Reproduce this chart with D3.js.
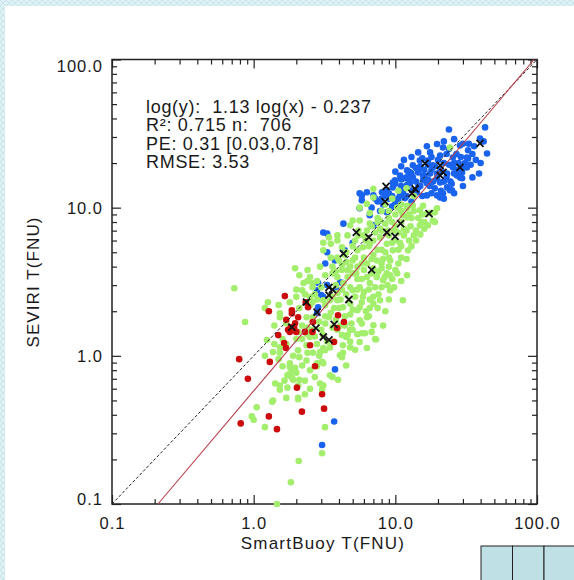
<!DOCTYPE html>
<html>
<head>
<meta charset="UTF-8">
<title>SEVIRI vs SmartBuoy</title>
<script src="https://d3js.org/d3.v7.min.js"></script>
<style>
    body { margin: 0; background: #fff; }
    svg text { font-family: "Liberation Sans", Arial, Helvetica, sans-serif; fill: #1a1a1a; }
</style>
</head>
<body>
<div id="chart"></div>
<script>
    // tick values (log axes, both 0.1 .. 100)
    const majorTicks = [0.1, 1, 10, 100]
    const minorTicks = [0.2, 0.3, 0.4, 0.5, 0.6, 0.7, 0.8, 0.9, 2, 3, 4, 5, 6, 7, 8, 9, 20, 30, 40, 50, 60, 70, 80, 90]
    const statLines = ['log(y):  1.13 log(x) - 0.237', 'R²: 0.715 n:  706', 'PE: 0.31 [0.03,0.78]', 'RMSE: 3.53']
    const fitSlope = 1.13
    const fitIntercept = -0.237

    // [SmartBuoy, SEVIRI] pairs
    const bluePts = [
        [23.9,33.7],[43,34.8],[39.6,29.3],[44.4,23.2],[39,17],[32.6,24.4],[32.6,21.5],[28.6,26.3],[19.7,26.9],[16.7,26],
        [14.5,23.6],[17.6,23.6],[21.7,25.5],[20.7,22.5],[25.5,21.8],[32,18.7],[29.6,17.3],[27.2,16.5],[23.2,17],[20.7,17.3],
        [18.4,19.3],[17,20.8],[14.9,20.8],[13.3,19.3],[12.7,17.3],[11.7,15.8],[12.1,14.2],[13.3,16],[14.5,17.3],[15.7,16.5],
        [17.6,17],[19.7,15.8],[20.7,14.8],[16.7,14.6],[14.5,13.7],[13.1,13.1],[11.3,12.7],[10.8,12.1],[11.7,11.6],[14.2,12.7],
        [16.7,12.1],[19.7,12.1],[21.7,12.5],[25.1,13.1],[20.7,11.7],[29.6,15.8],[12.3,17.6],[14.5,17.9],[9.95,15.3],[9.6,13.7],
        [8.7,13.1],[10.8,13.1],[12.7,14.6],[15.7,15.3],[19.7,17],[25.5,18.7],[30,18.7],[32,21.8],[28.6,16],[23.2,13.7],
        [24.3,13.1],[5.8,12.1],[6.3,12.7],[7.0,12.1],[8.05,12.7],[9.6,14.8],[10.8,16.5],[12.1,17.9],
        [7.5,11],[8.2,10.5],[9,11.5],[9.5,10.2],[8.5,12],[7.8,9.5],[10,11],[6.8,10],[7.2,11.5],[10.5,10.3],
        [15,19],[16,18],[18,18],[17,15.5],[19,19],[22,20],[21,18],[24,19.5],[26,20],[23,23],
        [18,22],[15.5,21.5],[27,23],[30,27],[26,29],[22,28],[13,22],[11,19],[10,17.5],[11.5,21],
        [11,14],[12.5,15.5],[14,15],[15,14],[16,16.5],[17.5,14],[18.5,15],[19,13.5],[21,13],[22,15],
        [23,16],[24.5,15],[26,17],[25,14.5],[27.5,18],[28,20],[29,22],[31,20],[34,19.5],[35,23],
        [36,26],[33,27],[37,21],[24,25],[20,21],[17,19.5],[14,18.5],[13,17],[12,16],[11,15.5],
        [10,14.5],[9,12.5],[8,11.5],[9.5,12],[10.5,11.5],[12,12],[13,11],[15.5,12],[18,12.5],[22,11.5],
        [26,12.5],[30,14],[35,16],[40,20],[42,28],
        [5.6,12.5],[5.8,11.2],[5.6,9.9],[6.6,8.9],[4.3,7.8],[3.1,6.8],[3.3,6.7],[5.0,5.8],[7.0,7.6],[4.4,5.15],
        [3.3,5.0],[3.2,4.2],[3.75,4.4],[2.85,3.1],[2.8,2.77],[3.1,2.5],[2.85,2.13],[8.7,9.3],[4.07,3.14],[3.9,2.77],
        [2.8,1.94],[3.3,3.0],[4.27,3.1],[3.0,2.57],[3.75,0.81],[3.7,0.36],[3.04,0.25]
    ]
    const greenPts = [
        [5.6,10.0],[6.6,9.2],[10.3,10.0],[12.1,10.3],[6.6,7.8],[7.8,8.2],[6.3,7.0],[5.0,8.2],[4.8,7.6],[3.9,6.0],
        [4.2,5.4],[3.5,5.7],[3.4,6.3],[3.1,5.8],[3.9,4.6],[4.5,4.3],[5.4,5.15],[5.9,5.4],[6.6,5.7],[7.8,6.3],
        [8.7,5.7],[9.6,5.15],[10.8,5.8],[12.3,5.15],[9.2,4.4],[8.2,4.5],[7.4,4.4],[6.3,4.2],[5.4,4.0],[5.0,3.6],
        [6.3,3.4],[7.4,3.4],[8.7,3.6],[10.3,3.6],[12.1,3.5],[8.2,3.24],[6.6,3.1],[5.6,2.9],[5.0,2.77],[4.3,3.1],
        [3.9,3.4],[2.94,4.0],[2.5,3.4],[1.96,3.9],[2.1,3.5],[2.25,3.1],[2.2,2.77],[2.6,2.9],[2.0,2.5],[2.5,2.5],
        [3.1,2.37],[3.9,2.37],[4.8,2.25],[5.6,2.13],[6.6,2.1],[7.8,2.37],[9.2,2.77],[11.3,2.37],[5.9,2.5],[7.0,2.5],
        [0.73,2.86],[0.87,1.69],[2.4,3.8],[3.1,5.15],[3.9,6.5],[5.6,8.2],[6.3,10.6],[7.0,13.4],[7.0,11.7],[1.26,2.3],
        [1.2,2.1],[1.53,1.82],[1.7,1.66],[2.06,1.45],[2.6,2.3],[2.62,1.82],
        [1.53,1.94],[1.8,0.89],[1.96,0.83],[1.8,0.76],[2.1,0.98],[2.36,0.93],[1.37,1.06],[1.53,1.05],[2.06,1.09],[3.1,1.13],
        [3.46,1.14],[4.27,1.05],[2.1,0.69],[3.1,0.63],[3.94,0.69],[1.53,0.63],[2.6,1.49],[3.1,1.38],[4.2,1.38],[2.1,2.1],
        [2.36,1.82],[3.4,1.82],[3.46,2.37],[4.27,2.13],[3.9,2.65],[4.5,1.34],[4.2,0.98],[4.5,0.86],[2.36,1.18],
        [1.24,1.28],[1.53,1.14],[2.62,1.05],[2.94,1.06],[3.19,1.09],[2.8,0.89],[3.1,0.89],[1.8,0.84],[1.86,0.71],[1.42,0.65],
        [1.53,0.59],[1.73,0.61],[2.06,0.63],[1.35,0.49],[2.06,0.51],[1.05,0.45],[0.97,0.39],[1.0,0.37],[1.2,0.33],[3.19,0.33],
        [3.04,0.22],[2.08,0.195],[1.83,0.14],[3.6,0.72],[2.5,1.34],[4.6,1.38],[4.27,1.18],[4.07,1.01],[5.6,1.24],[5.8,1.42],
        [7.0,1.61],[7.3,1.29],[6.3,1.13],[1.46,0.10],
        [5.6,1.74],[6.3,1.82],[6.1,1.42],[7.2,1.3],[4.8,1.49],[5.4,2.03],[7.0,2.25],[4.8,1.14],[3.04,0.91],[3.46,0.74],
        [2.94,0.65],[3.04,0.59],[2.06,0.52],[1.37,0.5],[1.73,0.74],[1.86,0.8],[2.0,0.77],[1.9,0.69],
        [24.3,25.5],[15.7,10.3],[19.7,9.9],[17.6,9.2],[14.9,9.6],[13.3,10.3],[12.1,9.9],[11.3,8.9],[18.4,8.2],[15.3,8.0],
        [16.7,9.1],[19,9.3],[19,8.0],[17,7.6],[14.9,7.6],[12.1,8.6],[12,13.5],[13.5,12],[10.5,13],[9.5,11.5],
        [11,10.5],[8.5,10.5],[8,9.5],[9,8.5],[7.5,8.5],
        [4.5,5],[5.2,6],[6,6.5],[6.8,7.5],[7.5,8],[5.5,7],[4.6,6.5],[6.5,5.5],[7,6],[8,7],
        [8.5,7.8],[9,6.5],[10,7.5],[11,8],[9.5,8],[12,7],[13,8.5],[14,7],[10,6],[11.5,6.5],
        [8,5.2],[7,4.8],[6,4.6],[5.2,4.6],[4.8,4],[4.2,3.8],[3.6,3.6],[4,4.4],[3.5,4.6],[3.2,3.5],
        [2.8,3.2],[3,2.9],[3.8,3],[4.6,3.4],[5.4,3.3],[6,3.8],[7,3.9],[8,3.9],[9,4],[4.5,2.6],
        [5.2,2.5],[6.5,2.8],[8,2.9],[9.5,3.3],[10.5,4.2],[12,4.5],[13,5.5],[14,6],[4,2.1],[4.8,1.9],
        [3.5,1.95],[3.2,2.2],[2.8,2.4],[2.5,2.2],[2.3,2.6],[2.6,3.1],[5.8,1.65],[6.5,1.85],[7.5,2.1],[8.5,2.0],
        [9,2.4],[4.4,1.6],[3.8,1.75],[5,1.5],[3.2,1.65],[2.6,1.7],[2.2,1.6],[2.4,1.4],[3,1.5],[3.9,1.5],
        [6.8,1.45],[8.2,1.6],[2,1.3],[1.8,1.5],[1.6,1.3],[1.4,1.2],[2.8,1.2],[3.7,1.25],[4.8,1.25],[5.2,1.1],
        [1.5,0.95],[1.2,1.0],[2.5,0.8],[2.8,0.85],[2.5,0.6],[2.3,0.55],[1.7,0.52],
        [5,5.5],[5.5,6.5],[6.2,6],[7.2,6.8],[7.8,7.2],[8.8,7],[9.8,7],[10.5,6.8],[11,5.5],[9.5,5.8],
        [8.5,5],[7.5,5.2],[6.8,4.5],[5.8,4.2],[5,4.4],[4.4,4.8],[4.2,4.1],[3.6,4],[3.8,3.7],[4.6,3.8],
        [5.3,3.6],[5.8,3.3],[6.8,3.6],[7.6,3.7],[8.4,3.4],[9.2,3.5],[10,3.8],[11,3.2],[9.8,2.9],[8.8,3],
        [7.2,2.9],[6,2.7],[5.4,2.8],[4.8,2.9],[4.2,2.8],[3.6,2.5],[4.1,2.4],[5.8,2.3],[6.6,2.4],[7.6,2.6],
        [6.2,2],[5,2.05],[4.4,1.85],[3.7,2.1],[3.2,1.85],[2.9,1.7],[3.6,1.55],[4.1,1.6],[4.9,1.65],[5.4,1.4],
        [2.4,1.55],[2.2,1.3],[2.7,1.35],[3.3,1.25],[2.9,1.0],[2.4,1.05],[1.9,1.0],[1.7,1.2],[1.6,0.85],[2.2,0.86],
        [2.7,0.72],[2.3,0.68],[1.65,0.68],[2.4,3.2],[2.7,2.6],[2.0,2.8],[1.8,2.3],[1.5,2.2],[1.4,1.6],[9,9.5],
        [10,9],[11,9.5],[12.5,9],[13.5,9.5],[14.5,8.5],[15.5,9],[16,8],[12.8,7.5],[11.5,7.2],[13.5,6.5],
        [15,6.6],[16,7.2],[10.5,5.2],[9,4.6],[11,4.6],[8,4.2],[12.5,6]
    ]
    const redPts = [
        [1.66,2.53],[1.28,2.0],[1.86,2.03],[2.06,1.82],[1.83,1.56],[1.96,1.66],[1.8,1.45],[1.49,1.38],[1.64,1.22],[1.69,1.13],
        [2.3,1.45],[2.42,2.13],[2.62,1.69],[2.5,1.18],[3.94,1.88],[4.34,1.69],[3.88,1.54],[3.69,1.24],[2.71,0.85],[1.3,0.91],
        [0.79,0.95],[0.91,0.70],[2.02,0.61],[3.04,0.55],[3.14,0.44],[2.19,0.42],[1.28,0.39],[0.81,0.35],[1.46,0.32],[1.86,1.93],
        [1.93,1.56],[2.33,2.3],[1.75,1.5],[2.0,1.45],[2.6,1.45],[1.7,1.75]
    ]
    const crossPts = [
        [39.6,27.2],[28.6,18.7],[20.7,19.3],[16.2,19.9],[21.7,17.3],[20.7,16.5],[13.8,13.4],[13.1,12.5],[17.3,9.1],[8.45,11.0],
        [8.6,13.9],[8.7,6.8],[9.95,6.4],[10.9,7.8],[5.3,6.8],[6.5,6.3],[4.3,4.9],[6.8,3.8],[3.4,2.9],[3.6,2.8],
        [3.4,2.57],[4.7,2.4],[2.36,2.3],[2.8,1.97],[1.86,1.56],[2.75,1.54],[3.1,1.34],[3.4,1.28],[3.7,1.63]
    ]

    const W = 574, H = 580
    const pL = 112, pR = 537, pT = 59.5, pB = 504

    var svg = d3.select('#chart').append('svg')
        .attr('width', W)
        .attr('height', H)

    // page background: light cyan hatch with a white panel
    const pat = svg.append('defs').append('pattern')
        .attr('id', 'hatch')
        .attr('width', 6).attr('height', 6)
        .attr('patternUnits', 'userSpaceOnUse')
    pat.append('rect').attr('width', 6).attr('height', 6).attr('fill', '#dff1f4')
    pat.append('path').attr('d', 'M0,6 L6,0 M0,0 L6,6').attr('stroke', '#c6e5eb').attr('stroke-width', 1)

    svg.append('rect').attr('width', W).attr('height', H).attr('fill', 'url(#hatch)')
    svg.append('rect').attr('x', 5).attr('y', 6).attr('width', W - 5).attr('height', H - 6).attr('fill', '#fff')

    // little boxes bottom right
    svg.selectAll('.box')
        .data([0, 1, 2])
        .enter()
        .append('rect')
        .attr('class', 'box')
        .attr('x', d => 481 + d * 31.5)
        .attr('y', 546)
        .attr('width', 31.5)
        .attr('height', 40)
        .attr('fill', '#bfe1e5')
        .attr('stroke', '#222')
        .attr('stroke-width', 1)

    const x = d3.scaleLog().domain([0.1, 100]).range([pL, pR])
    const y = d3.scaleLog().domain([0.1, 100]).range([pB, pT])
    const fmt = d3.format('.1f')

    function tickStyle(g) {
        g.select('.domain').remove()
        g.selectAll('line').attr('stroke', '#222').attr('stroke-width', 1.2)
        g.selectAll('text').style('font-size', '16.5px').style('letter-spacing', '1px').attr('fill', '#1a1a1a')
    }

    // bottom (labelled) + top mirror
    svg.append('g').attr('transform', `translate(0,${pB})`)
        .call(d3.axisBottom(x).tickValues(majorTicks).tickSize(-9).tickPadding(13).tickFormat(fmt))
        .call(tickStyle)
    svg.append('g').attr('transform', `translate(0,${pB})`)
        .call(d3.axisBottom(x).tickValues(minorTicks).tickSize(-5).tickFormat(''))
        .call(tickStyle)
    svg.append('g').attr('transform', `translate(0,${pT})`)
        .call(d3.axisTop(x).tickValues(majorTicks).tickSize(-9).tickFormat(''))
        .call(tickStyle)
    svg.append('g').attr('transform', `translate(0,${pT})`)
        .call(d3.axisTop(x).tickValues(minorTicks).tickSize(-5).tickFormat(''))
        .call(tickStyle)

    // left (labelled) + right mirror
    const yLab = svg.append('g').attr('transform', `translate(${pL},0)`)
        .call(d3.axisLeft(y).tickValues(majorTicks).tickSize(-9).tickPadding(9).tickFormat(fmt))
        .call(tickStyle)
    yLab.selectAll('text').attr('dy', d => d === 100 ? '0.72em' : d === 0.1 ? '0em' : '0.36em')
    svg.append('g').attr('transform', `translate(${pL},0)`)
        .call(d3.axisLeft(y).tickValues(minorTicks).tickSize(-5).tickFormat(''))
        .call(tickStyle)
    svg.append('g').attr('transform', `translate(${pR},0)`)
        .call(d3.axisRight(y).tickValues(majorTicks).tickSize(-9).tickFormat(''))
        .call(tickStyle)
    svg.append('g').attr('transform', `translate(${pR},0)`)
        .call(d3.axisRight(y).tickValues(minorTicks).tickSize(-5).tickFormat(''))
        .call(tickStyle)

    // plot frame
    svg.append('rect')
        .attr('x', pL).attr('y', pT)
        .attr('width', pR - pL).attr('height', pB - pT)
        .attr('fill', 'none')
        .attr('stroke', '#222')
        .attr('stroke-width', 1.5)

    const plot = svg.append('g')

    // points
    plot.selectAll('.blue').data(bluePts).enter().append('circle')
        .attr('class', 'blue')
        .attr('cx', d => x(d[0])).attr('cy', d => y(d[1]))
        .attr('r', 3.3)
        .attr('fill', '#1a63ee')
    plot.selectAll('.green').data(greenPts).enter().append('circle')
        .attr('class', 'green')
        .attr('cx', d => x(d[0])).attr('cy', d => y(d[1]))
        .attr('r', 3.3)
        .attr('fill', '#a4ee6e')
    plot.selectAll('.red').data(redPts).enter().append('circle')
        .attr('class', 'red')
        .attr('cx', d => x(d[0])).attr('cy', d => y(d[1]))
        .attr('r', 3.3)
        .attr('fill', '#cc0c0c')

    // 1:1 line and fitted line
    plot.append('line')
        .attr('x1', x(0.1)).attr('y1', y(0.1))
        .attr('x2', x(100)).attr('y2', y(100))
        .attr('stroke', '#222')
        .attr('stroke-width', 1)
        .attr('stroke-dasharray', '3,2')

    const fitX0 = Math.pow(10, (-1 - fitIntercept) / fitSlope)
    const fitX1 = Math.pow(10, (2 - fitIntercept) / fitSlope)
    plot.append('line')
        .attr('x1', x(fitX0)).attr('y1', y(0.1))
        .attr('x2', x(fitX1)).attr('y2', y(100))
        .attr('stroke', '#b8404c')
        .attr('stroke-width', 1.1)

    plot.selectAll('.cross').data(crossPts).enter().append('path')
        .attr('class', 'cross')
        .attr('transform', d => `translate(${x(d[0])},${y(d[1])})`)
        .attr('d', 'M-3.5,-3.5L3.5,3.5M-3.5,3.5L3.5,-3.5')
        .attr('stroke', '#111')
        .attr('stroke-width', 1.8)

    // statistics block
    svg.append('g').selectAll('text')
        .data(statLines)
        .enter()
        .append('text')
        .attr('x', 146)
        .attr('y', (d, i) => 113 + i * 18.3)
        .attr('xml:space', 'preserve')
        .style('white-space', 'pre')
        .style('font-size', '18px')
        .style('letter-spacing', '0.7px')
        .text(d => d)

    // axis titles
    svg.append('text')
        .attr('x', 323).attr('y', 549)
        .attr('text-anchor', 'middle')
        .style('font-size', '17px')
        .style('letter-spacing', '1.2px')
        .text('SmartBuoy T(FNU)')
    svg.append('text')
        .attr('transform', 'translate(39,282) rotate(-90)')
        .attr('text-anchor', 'middle')
        .style('font-size', '17px')
        .style('letter-spacing', '1.1px')
        .text('SEVIRI T(FNU)')
</script>
</body>
</html>
